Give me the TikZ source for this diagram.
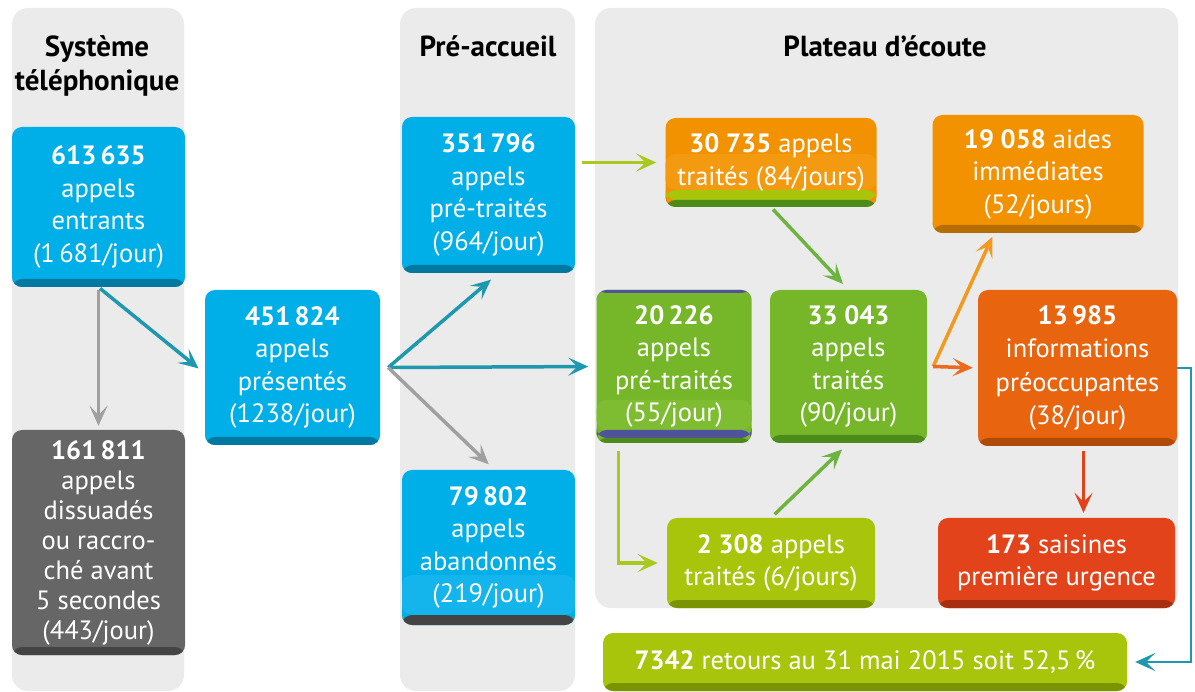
\documentclass[tikz,border=0pt]{standalone}
\usepackage{fontspec}
\setmainfont{PT Sans}
\usetikzlibrary{arrows.meta,calc}
\definecolor{panel}{HTML}{EBEBEB}
\definecolor{cyanb}{HTML}{00AEE8}
\definecolor{cyand}{HTML}{00789F}
\definecolor{cyanl}{HTML}{14B4EC}
\definecolor{greyb}{HTML}{666666}
\definecolor{greyd}{HTML}{444444}
\definecolor{orab}{HTML}{F39200}
\definecolor{oral}{HTML}{F49A10}
\definecolor{oreb}{HTML}{E8640E}
\definecolor{ored}{HTML}{B04A08}
\definecolor{redb}{HTML}{E2431A}
\definecolor{redd}{HTML}{A82E10}
\definecolor{grnb}{HTML}{76B72A}
\definecolor{grnl}{HTML}{7EBC32}
\definecolor{grnd}{HTML}{4C8A1A}
\definecolor{ylgb}{HTML}{A8C40B}
\definecolor{ylgd}{HTML}{7A9400}
\definecolor{purp}{HTML}{50529C}
\definecolor{tealc}{HTML}{1E98AE}
\definecolor{greyarr}{HTML}{A0A0A0}
\definecolor{ylgarr}{HTML}{A9C820}
\definecolor{grnarr}{HTML}{6DB33F}
\definecolor{orarr}{HTML}{F39A1E}
\definecolor{orearr}{HTML}{EB6A1E}
\definecolor{redarr}{HTML}{E2421A}
\tikzset{
  box/.style 2 args={rounded corners=10pt, fill=#1, text=white, align=center,
    inner sep=0pt, font=\fontsize{26.5}{32.5}\selectfont,
    path picture={\fill[#2] ([yshift=8pt]path picture bounding box.south west)
      rectangle (path picture bounding box.south east);}},
  title/.style={font=\fontsize{29}{34}\selectfont\bfseries, align=center, text=black},
  arr/.style={line width=3.5pt, -{Stealth[length=20pt,width=18pt,inset=9pt]}},
  pnl/.style={fill=panel, rounded corners=16pt}
}
\begin{document}
\begin{tikzpicture}[x=1pt,y=-1pt]
\useasboundingbox (0,0) rectangle (1195,692);
% panels
\fill[pnl] (12,8) rectangle (184,691);
\fill[pnl] (400,8) rectangle (575,691);
\fill[pnl] (595,8) rectangle (1178,608);
% titles
\node[title] (t1) at (97,66) {Système\\téléphonique};
\node[title, anchor=base] (t2) at (488,57) {Pré-accueil};
\node[title, anchor=base] (t3) at (885,57) {Plateau d’écoute};
% boxes
\node[box={cyanb}{cyand}, minimum width=173pt, minimum height=160pt] (n613) at (98.5,207)
  {\textbf{613\,635}\\appels\\entrants\\(1\,681/jour)};
\node[box={greyb}{greyd}, minimum width=173pt, minimum height=225pt, font=\fontsize{26.5}{30}\selectfont] (n161) at (98.5,542.5)
  {\textbf{161\,811}\\appels\\dissuadés\\ou raccro-\\ché avant\\5 secondes\\(443/jour)};
\node[box={cyanb}{cyand}, minimum width=175pt, minimum height=155pt] (n451) at (292.5,367.5)
  {\textbf{451\,824}\\appels\\présentés\\(1238/jour)};
\node[box={cyanb}{cyand}, minimum width=173pt, minimum height=156pt] (n351) at (488.5,195)
  {\textbf{351\,796}\\appels\\pré-traités\\(964/jour)};
\node[box={cyanb}{cyand}, minimum width=173pt, minimum height=155pt,
  path picture={
    \fill[cyanl] ([yshift=10pt]path picture bounding box.south west) rectangle ([yshift=50pt]path picture bounding box.south east);
    \fill[greyd] (path picture bounding box.south west) rectangle ([yshift=10pt]path picture bounding box.south east);}] (n798) at (488.5,547.5)
  {\textbf{79\,802}\\appels\\abandonnés\\(219/jour)};
\node[box={orab}{grnd}, minimum width=211pt, minimum height=89pt,
  path picture={
    \fill[oral] ([yshift=17pt]path picture bounding box.south west) rectangle ([yshift=53pt]path picture bounding box.south east);
    \fill[ylgb] ([yshift=7pt]path picture bounding box.south west) rectangle ([yshift=17pt]path picture bounding box.south east);
    \fill[grnd] (path picture bounding box.south west) rectangle ([yshift=7pt]path picture bounding box.south east);}] (n307) at (771,162.5)
  {\textbf{30 735} appels\\traités (84/jours)};
\node[box={orab}{orab!75!black}, minimum width=211pt, minimum height=118pt] (n190) at (1038,174)
  {\textbf{19 058} aides\\immédiates\\(52/jours)};
\node[box={grnb}{grnd}, minimum width=155pt, minimum height=153pt,
  path picture={
    \fill[purp] ([yshift=-3pt]path picture bounding box.north west) rectangle (path picture bounding box.north east);
    \fill[grnl] ([yshift=13pt]path picture bounding box.south west) rectangle ([yshift=43pt]path picture bounding box.south east);
    \fill[purp] ([yshift=5pt]path picture bounding box.south west) rectangle ([yshift=13pt]path picture bounding box.south east);
    \fill[grnd] (path picture bounding box.south west) rectangle ([yshift=5pt]path picture bounding box.south east);}] (n202) at (674,366.5)
  {\textbf{20\,226}\\appels\\pré-traités\\(55/jour)};
\node[box={grnb}{grnd}, minimum width=157pt, minimum height=153pt] (n330) at (848.5,366.5)
  {\textbf{33 043}\\appels\\traités\\(90/jour)};
\node[box={oreb}{ored}, minimum width=199pt, minimum height=156pt, font=\fontsize{26.5}{33.5}\selectfont] (n139) at (1077.5,368)
  {\textbf{13\,985}\\informations\\préoccupantes\\(38/jour)};
\node[box={ylgb}{ylgd}, minimum width=208pt, minimum height=90pt] (n230) at (771,563)
  {\textbf{2 308} appels\\traités (6/jours)};
\node[box={redb}{redd}, minimum width=237pt, minimum height=90pt] (n173) at (1056.5,563)
  {\textbf{173} saisines\\première urgence};
\node[box={ylgb}{ylgd}, minimum width=524pt, minimum height=58pt] (n734) at (865,662)
  {\textbf{7342} retours au 31 mai 2015 soit 52,5\,\%};
% connectors
\draw[arr, greyarr, shorten <=3pt, shorten >=4pt] (n613.south) -- (n161.north);
\draw[arr, tealc, shorten <=2pt, shorten >=8pt] (n613.south) -- ($(n451.west)+(0,6)$);
\coordinate (br) at ($(n451.east)+(8,0)$);
\draw[arr, tealc, shorten >=10pt] (br) -- ($(n351.south)+(10,0)$);
\draw[arr, tealc, shorten >=8pt] (br) -- (n202.west);
\draw[arr, greyarr, shorten >=8pt] (br) -- ($(n798.north)+(6,0)$);
\draw[arr, ylgarr, shorten <=7pt, shorten >=9pt] (n351.east |- n307.west) -- (n307.west);
\draw[arr, grnarr, shorten <=3pt, shorten >=8pt] (n307.south) -- (n330.north);
\draw[arr, ylgarr, shorten <=8pt, shorten >=9pt] ($(n202.south west)+(22,0)$) |- (n230.west);
\draw[arr, grnarr, shorten <=5pt, shorten >=9pt] (n230.north) -- (n330.south);
\coordinate (fk) at ($(n330.east)+(6,0)$);
\draw[arr, orarr, shorten >=4pt] (fk) -- ($(n190.south)+(-44,0)$);
\draw[arr, orearr, shorten >=5pt] (fk) -- (n139.west);
\draw[arr, redarr, shorten <=5pt, shorten >=5pt] ([xshift=6pt]n139.south) -- ([xshift=6pt]n139.south |- n173.north);
\draw[arr, tealc, line width=2.5pt, shorten >=8pt] (n139.east) -- ++(14,0) |- (n734.east);
\end{tikzpicture}
\end{document}
